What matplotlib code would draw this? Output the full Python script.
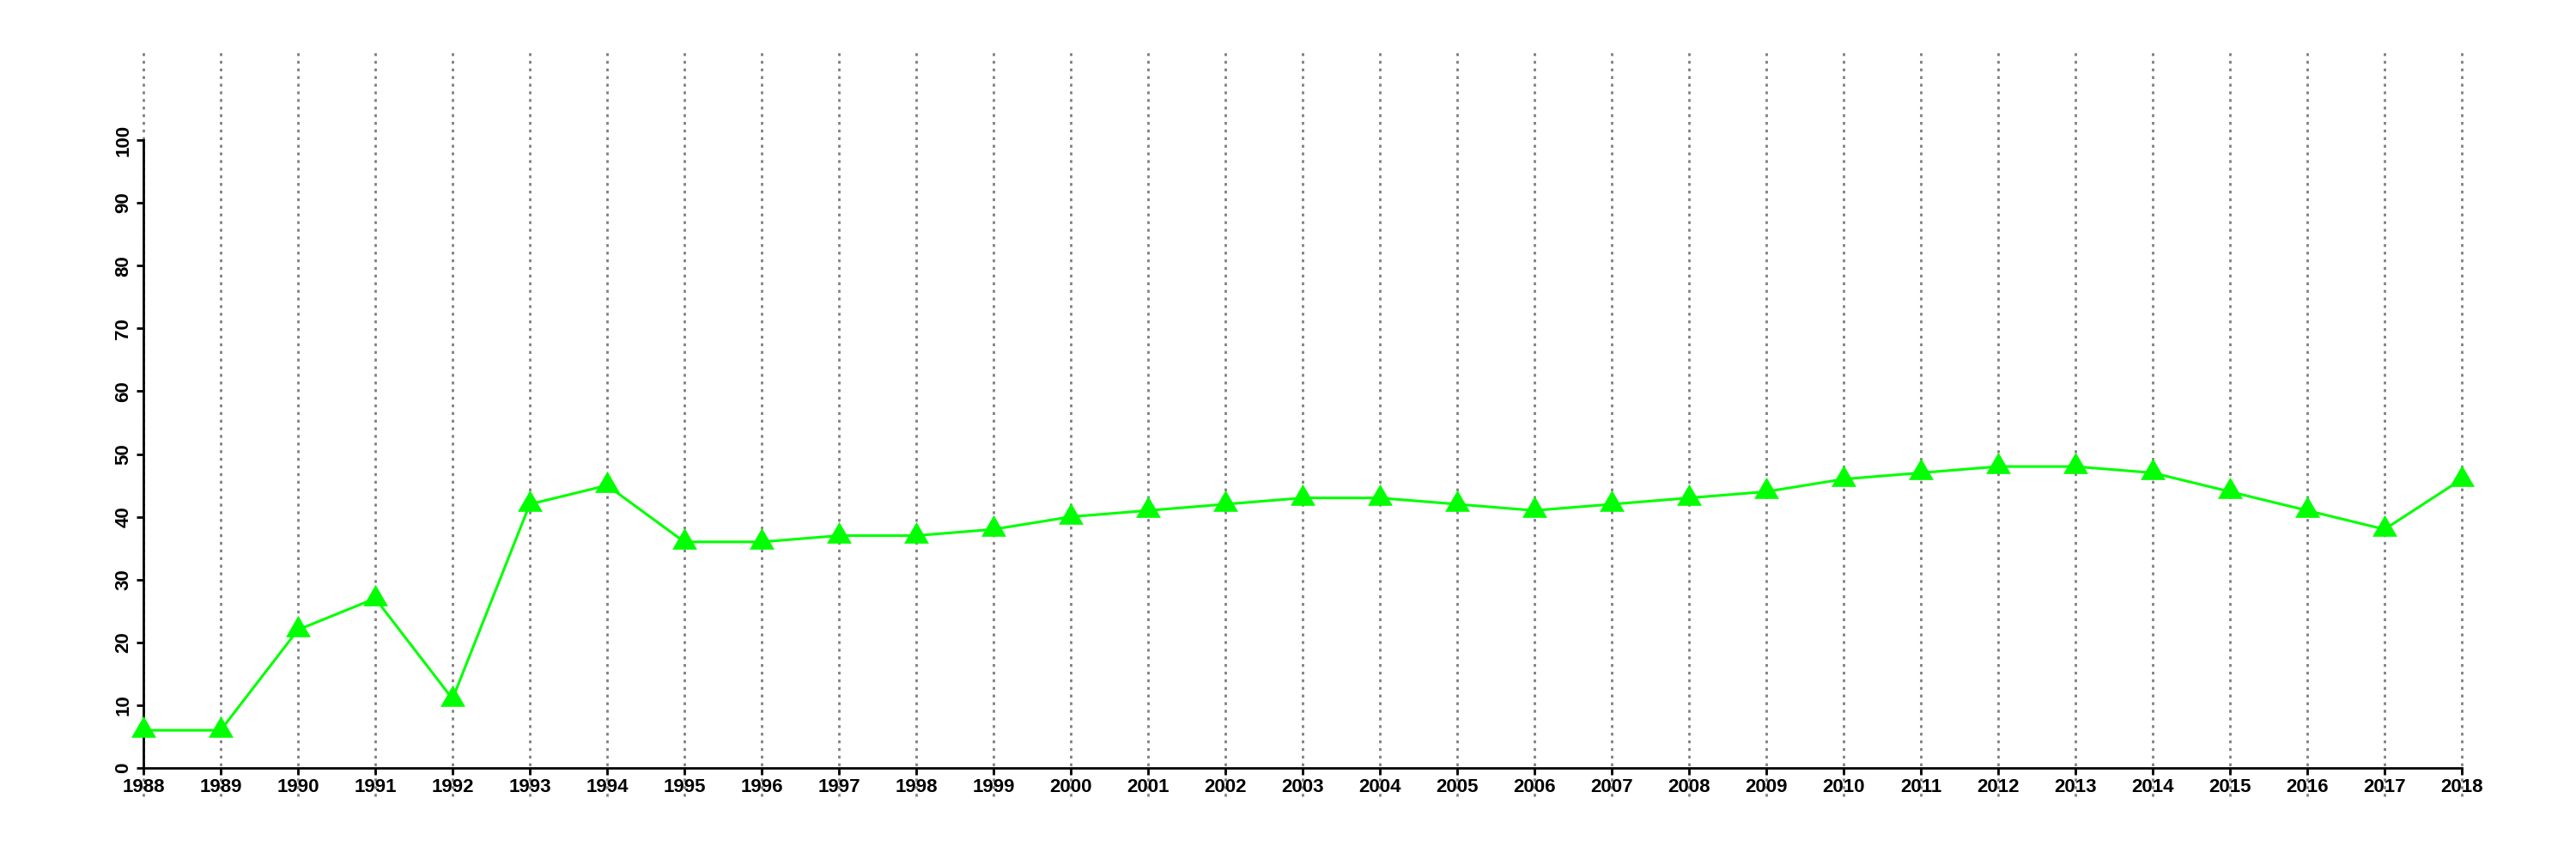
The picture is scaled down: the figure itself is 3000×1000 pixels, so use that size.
import numpy as np
import matplotlib
matplotlib.use("Agg")
import matplotlib.pyplot as plt

plt.rcParams['font.family'] = ['Liberation Sans', 'DejaVu Sans']

# 数据
years = list(range(1988, 2019))
values = [6, 6, 22, 27, 11, 42, 45, 36, 36, 37, 37, 38, 40, 41, 42, 43,
          43, 42, 41, 42, 43, 44, 46, 47, 48, 48, 47, 44, 41, 38, 46]
y_ticks = list(range(0, 101, 10))

fig = plt.figure(figsize=(30, 10), dpi=100)
ax = fig.add_axes([167 / 3000, 0.106, 2700 / 3000, 0.731])

# 竖直虚线 (超出坐标轴范围)
ax.vlines(years, -4.5, 114, colors='#808080', linestyles=(0, (1.2, 2.0)),
          linewidth=2, clip_on=False, zorder=1)

tri = [(0, 1), (-0.866, -0.5), (0.866, -0.5)]
ax.plot(years, values, color='#00ff00', linewidth=2.2, marker=tri,
        markersize=24, markerfacecolor='#00ff00', markeredgewidth=0,
        zorder=3, clip_on=False)

ax.set_xlim(1988, 2018)
ax.set_ylim(0, 100)
ax.set_xticks(years)
ax.set_xticklabels([str(y) for y in years], fontsize=16, fontweight='bold')
ax.set_yticks(y_ticks)
ax.set_yticklabels([str(v) for v in y_ticks], fontsize=16, fontweight='bold',
                   rotation=90, va='center')

for s in ['top', 'right']:
    ax.spines[s].set_visible(False)
for s in ['left', 'bottom']:
    ax.spines[s].set_linewidth(2)
ax.tick_params(axis='both', length=6, width=2, pad=3)

fig.savefig('out.png', dpi=100)
